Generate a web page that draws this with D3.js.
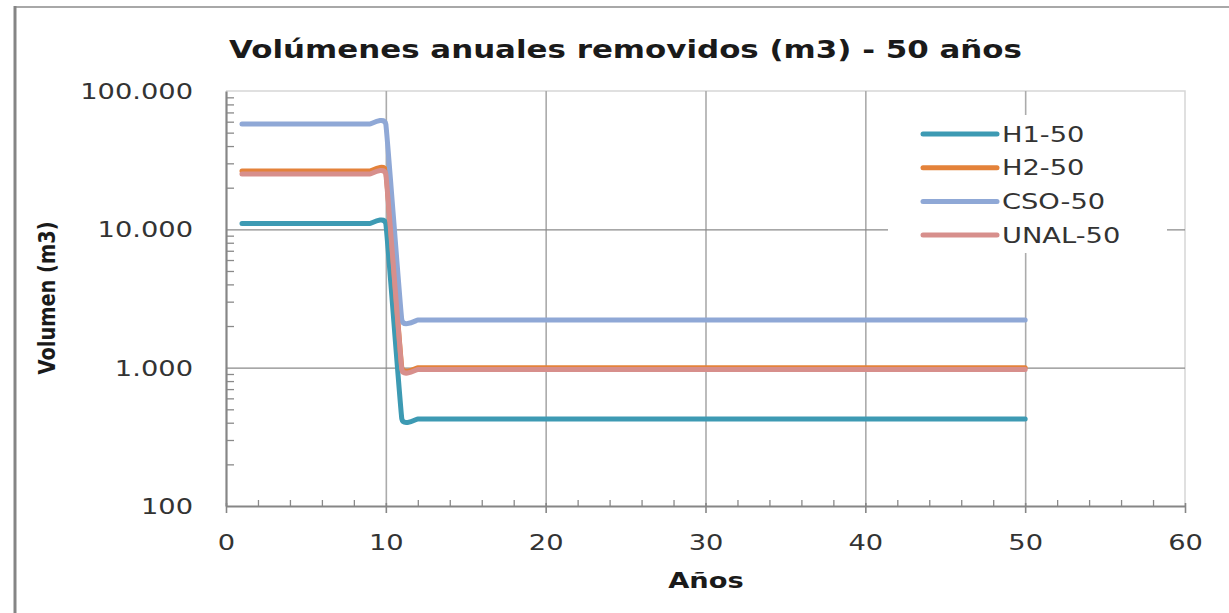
<!DOCTYPE html>
<html><head><meta charset="utf-8">
<script src="https://cdn.jsdelivr.net/npm/d3@7"></script>
<style>body{margin:0;background:#fff}svg{display:block}</style>
</head><body>
<svg id="c" width="1229" height="613"></svg>
<script>
// ---------- data ----------
const years = [1,2,3,4,5,6,7,8,9,10,11,12,13,14,15,16,17,18,19,20,21,22,23,24,25,
               26,27,28,29,30,31,32,33,34,35,36,37,38,39,40,41,42,43,44,45,46,47,48,49,50];
const seriesNames = ["H1-50","H2-50","CSO-50","UNAL-50"];
const h1 = [11000,11000,11000,11000,11000,11000,11000,11000,11000,11000,
            426,426,426,426,426,426,426,426,426,426,
            426,426,426,426,426,426,426,426,426,426,
            426,426,426,426,426,426,426,426,426,426,
            426,426,426,426,426,426,426,426,426,426];
const h2 = [26400,26400,26400,26400,26400,26400,26400,26400,26400,26400,
            1000,1000,1000,1000,1000,1000,1000,1000,1000,1000,
            1000,1000,1000,1000,1000,1000,1000,1000,1000,1000,
            1000,1000,1000,1000,1000,1000,1000,1000,1000,1000,
            1000,1000,1000,1000,1000,1000,1000,1000,1000,1000];
const cso = [57700,57700,57700,57700,57700,57700,57700,57700,57700,57700,
             2210,2210,2210,2210,2210,2210,2210,2210,2210,2210,
             2210,2210,2210,2210,2210,2210,2210,2210,2210,2210,
             2210,2210,2210,2210,2210,2210,2210,2210,2210,2210,
             2210,2210,2210,2210,2210,2210,2210,2210,2210,2210];
const unal = [25100,25100,25100,25100,25100,25100,25100,25100,25100,25100,
              970,970,970,970,970,970,970,970,970,970,
              970,970,970,970,970,970,970,970,970,970,
              970,970,970,970,970,970,970,970,970,970,
              970,970,970,970,970,970,970,970,970,970];
const xTicks = [0,10,20,30,40,50,60];
const xTickLabels = ["0","10","20","30","40","50","60"];
const yTicks = [100,1000,10000,100000];
const yTickLabels = ["100","1.000","10.000","100.000"];
const titleText = "Volúmenes anuales removidos (m3) - 50 años";
const xTitle = "Años";
const yTitle = "Volumen (m3)";

// ---------- styling ----------
const colors = ["#3d9ab3","#e4823a","#8fa8d6","#d78f8c"];
const FONT = "'DejaVu Sans', Verdana, sans-serif";
const SX = 1.3; // horizontal stretch of text

const svg = d3.select("#c");
const M = {left:226, right:1185, top:91, bottom:506};
const x = d3.scaleLinear().domain([0,60]).range([M.left, M.right]);
const y = d3.scaleLog().domain([100,100000]).range([M.bottom, M.top]);

function stretch(sel, sx){
  sel.each(function(){
    const t = d3.select(this);
    const tx = +(t.attr("x")||0), ty = +(t.attr("y")||0);
    t.attr("transform", `translate(${tx},${ty}) scale(${sx},1) translate(${-tx},${-ty})`);
  });
}

// outer chart border
svg.append("line").attr("x1",15).attr("y1",7).attr("x2",1229).attr("y2",7)
  .attr("stroke","#a8a8a8").attr("stroke-width",2);
svg.append("line").attr("x1",15).attr("y1",6).attr("x2",15).attr("y2",613)
  .attr("stroke","#858585").attr("stroke-width",3);

// plot area top/right border
svg.append("path").attr("d",`M${M.left},${M.top}H${M.right}V${M.bottom}`)
  .attr("fill","none").attr("stroke","#d6d6d6").attr("stroke-width",1.5);

// vertical gridlines
svg.append("g").attr("transform",`translate(0,${M.bottom})`)
  .call(d3.axisBottom(x).tickValues(xTicks.filter(v=>v>0&&v<60)).tickSize(-(M.bottom-M.top)).tickFormat(""))
  .call(g=>g.select(".domain").remove())
  .selectAll("line").attr("stroke","#ababab").attr("stroke-width",1.6);

// horizontal gridlines
svg.append("g").attr("transform",`translate(${M.left},0)`)
  .call(d3.axisLeft(y).tickValues(yTicks.filter(v=>v>100&&v<100000)).tickSize(-(M.right-M.left)).tickFormat(""))
  .call(g=>g.select(".domain").remove())
  .selectAll("line").attr("stroke","#8a8a8a").attr("stroke-width",1.4);

// y minor ticks (inside)
const yMinor = [];
[100,1000,10000].forEach(d=>{for(let m=2;m<=9;m++) yMinor.push(d*m);});
svg.append("g").attr("transform",`translate(${M.left},0)`)
  .call(d3.axisLeft(y).tickValues(yMinor).tickSize(-8).tickSizeOuter(0).tickFormat(""))
  .call(g=>g.select(".domain").remove())
  .selectAll("line").attr("stroke","#8a8a8a").attr("stroke-width",1.3);

// x minor ticks (inside)
const xMinor = [];
for(let v=2; v<60; v+=2) if(v%10!==0) xMinor.push(v);
svg.append("g").attr("transform",`translate(0,${M.bottom})`)
  .call(d3.axisBottom(x).tickValues(xMinor).tickSize(-6).tickSizeOuter(0).tickFormat(""))
  .call(g=>g.select(".domain").remove())
  .selectAll("line").attr("stroke","#8a8a8a").attr("stroke-width",1.3);

// y axis
const yAx = svg.append("g").attr("transform",`translate(${M.left},0)`)
  .call(d3.axisLeft(y).tickValues(yTicks).tickSize(0).tickSizeOuter(0)
        .tickFormat((d,i)=>yTickLabels[yTicks.indexOf(d)]).tickPadding(33));
yAx.select(".domain").attr("stroke","#868686").attr("stroke-width",2.2);
yAx.selectAll("text").attr("font-family",FONT).attr("font-size",21).attr("fill","#333").attr("dy","0.36em")
  .call(stretch, SX);

// x axis
const xAx = svg.append("g").attr("transform",`translate(0,${M.bottom})`)
  .call(d3.axisBottom(x).tickValues(xTicks).tickSize(7).tickSizeOuter(0)
        .tickFormat(d=>xTickLabels[xTicks.indexOf(d)]));
xAx.select(".domain").attr("stroke","#868686").attr("stroke-width",2);
xAx.selectAll(".tick line").attr("stroke","#868686").attr("stroke-width",1.6).attr("y1",-3);
xAx.selectAll("text").attr("font-family",FONT).attr("font-size",21).attr("fill","#333")
  .attr("y",44).attr("dy",0).call(stretch, SX);

// series lines
const allSeries = [h1,h2,cso,unal];
const line = d3.line().x((d,i)=>x(years[i])).y(d=>y(d)).curve(d3.curveCardinal.tension(0.75));
svg.append("g").selectAll("path").data(allSeries).join("path")
  .attr("d",line).attr("fill","none")
  .attr("stroke",(d,i)=>colors[i]).attr("stroke-width",5)
  .attr("stroke-linecap","round").attr("stroke-linejoin","round");

// legend
const lg = svg.append("g");
lg.append("rect").attr("x",888).attr("y",115).attr("width",279).attr("height",138).attr("fill","#fff");
seriesNames.forEach((n,i)=>{
  const yy = 134 + i*33.7;
  lg.append("line").attr("x1",923).attr("x2",997).attr("y1",yy).attr("y2",yy)
    .attr("stroke",colors[i]).attr("stroke-width",5).attr("stroke-linecap","round");
  lg.append("text").attr("x",1002).attr("y",yy).attr("dy","0.36em")
    .attr("font-family",FONT).attr("font-size",21).attr("fill","#333").text(n)
    .call(stretch, SX);
});

// title
svg.append("text").attr("x",625.5).attr("y",58).attr("text-anchor","middle")
  .attr("font-family",FONT).attr("font-weight","bold").attr("font-size",24).attr("fill","#1a1a1a")
  .attr("textLength",793).attr("lengthAdjust","spacingAndGlyphs").text(titleText);

// x title
svg.append("text").attr("x",706).attr("y",588).attr("text-anchor","middle")
  .attr("font-family",FONT).attr("font-weight","bold").attr("font-size",21).attr("fill","#1a1a1a")
  .text(xTitle).call(stretch, SX);

// y title
svg.append("g").attr("transform",`translate(47,298) scale(${SX},1) rotate(-90)`)
  .append("text").attr("x",0).attr("y",0).attr("dy","0.36em").attr("text-anchor","middle")
  .attr("font-family",FONT).attr("font-weight","bold").attr("font-size",17).attr("fill","#1a1a1a")
  .attr("textLength",153).attr("lengthAdjust","spacingAndGlyphs").text(yTitle);
</script>
</body></html>
